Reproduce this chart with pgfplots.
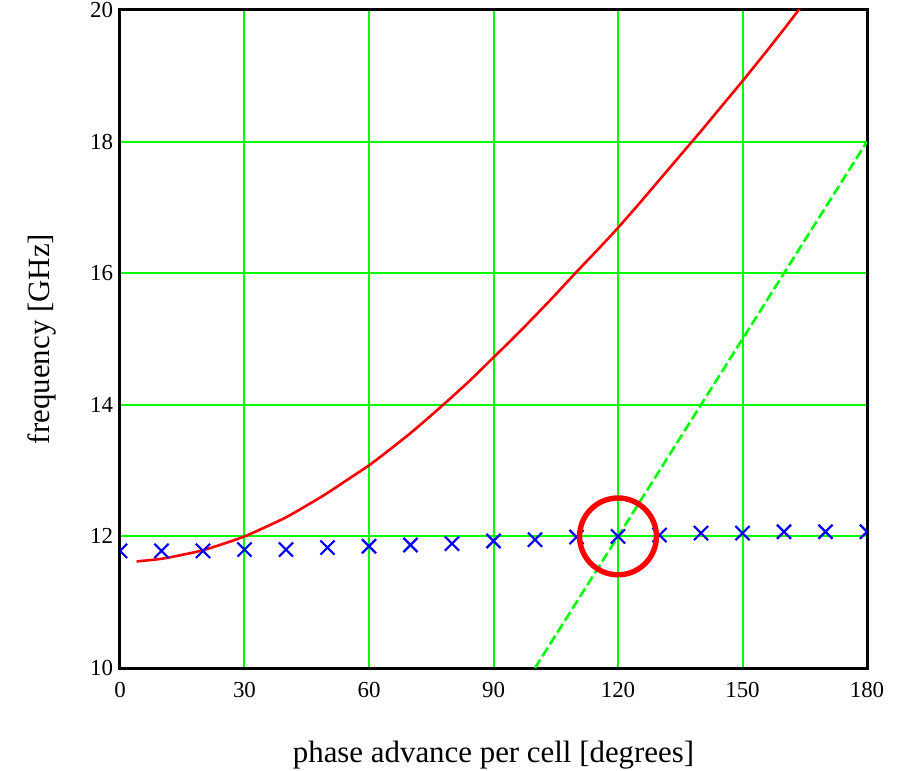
\documentclass[border=0pt]{standalone}
\usepackage{fontspec}
\setmainfont{Liberation Serif}
\usepackage{pgfplots}
\pgfplotsset{compat=1.18}
\definecolor{pgreen}{RGB}{0,255,0}
\begin{document}
\begin{tikzpicture}
\begin{axis}[
  scale only axis,
  width=373.5bp, height=329bp,
  xmin=0, xmax=180, ymin=10, ymax=20,
  xtick={0,30,...,180}, ytick={10,12,...,20},
  major tick length=0pt,
  grid=major,
  major grid style={pgreen, line width=1bp},
  axis line style={black, line width=1.5bp},
  /pgf/number format/assume math mode=true,
  tick label style={font=\fontsize{11.5}{13}\selectfont},
  xticklabel style={yshift=-3.5bp},
  label style={font=\fontsize{15.5}{18}\selectfont},
  xlabel={phase advance per cell [degrees]},
  ylabel={frequency [GHz]},
  xlabel style={yshift=-15bp},
  ylabel style={yshift=10bp},
  clip=true,
  clip marker paths=true,
]
\addplot[red, line width=1.3bp, smooth] coordinates {
(4,11.62) (10,11.66) (15,11.72) (20,11.79) (25,11.89) (30,12.00) (35,12.14)
(40,12.29) (45,12.47) (50,12.66) (55,12.87) (60,13.08) (65,13.32) (70,13.57)
(75,13.84) (80,14.12) (85,14.41) (90,14.72) (95,15.03) (100,15.35) (105,15.68)
(110,16.02) (115,16.35) (120,16.69) (125,17.05) (130,17.42) (135,17.79)
(140,18.16) (145,18.54) (150,18.92) (155,19.31) (160,19.71) (164,20.04)
};
\addplot[pgreen, line width=1.3bp, dash pattern=on 5bp off 2bp] coordinates {
(100,10) (180,18)
};
\addplot[blue, only marks, mark=x, mark size=5bp, line width=1.1bp] coordinates {
(0,11.78) (10,11.78) (20,11.78) (30,11.80) (40,11.80) (50,11.83) (60,11.85)
(70,11.87) (80,11.89) (90,11.93) (100,11.95) (110,11.99) (120,12.00)
(130,12.02) (140,12.05) (150,12.05) (160,12.07) (170,12.07) (180,12.07)
};
\addplot[red, only marks, mark=o, mark size=19.2bp, line width=2.7bp] coordinates {
(120,12)
};
\end{axis}
\pgfresetboundingbox
\useasboundingbox ([xshift=-60bp,yshift=-51.5bp]current axis.south west) rectangle ([xshift=17.5bp,yshift=5bp]current axis.north east);
\end{tikzpicture}
\end{document}
